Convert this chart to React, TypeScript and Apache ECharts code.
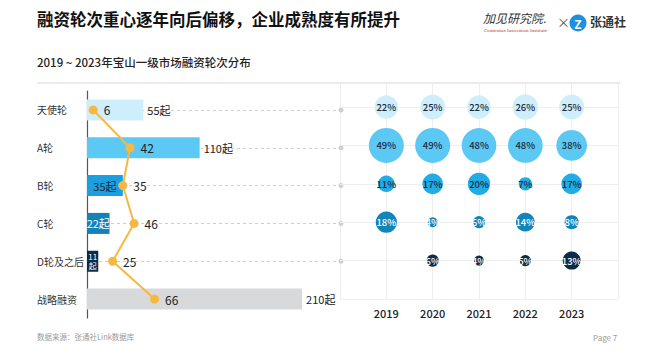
import React, { useEffect, useRef } from "react";
import * as echarts from "echarts";

const rounds = ["天使轮", "A轮", "B轮", "C轮", "D轮及之后", "战略融资"];
const dealCounts = [55, 110, 35, 22, 11, 210];
const lineValues = [6, 42, 35, 46, 25, 66];
const years = [2019, 2020, 2021, 2022, 2023];
const shareAngel = [22, 25, 22, 26, 25];
const shareA = [49, 49, 48, 48, 38];
const shareB = [11, 17, 20, 7, 17];
const shareC = [18, 4, 6, 14, 8];
const shareD: (number | null)[] = [null, 6, 4, 5, 13];
const shareRows = [shareAngel, shareA, shareB, shareC, shareD];

const barColors = ["#cdeefa", "#5cc9f5", "#1b9fe0", "#1282b8", "#0d2c48", "#d8d9db"];
const bubbleColors = ["#cfeefb", "#5cc8f4", "#22ace5", "#1384ba", "#0c2c47"];
const FONT = "'Noto Sans CJK SC', 'Noto Sans', sans-serif";
const XMAX = 248;

export default function App() {
  const ref = useRef<HTMLDivElement>(null);
  useEffect(() => {
    if (!ref.current) return;
    const chart = echarts.init(ref.current, undefined, { renderer: "svg" });

    const barData = dealCounts.map((v, i) => {
      const item: any = { value: v, itemStyle: { color: barColors[i] } };
      if (i === 2) {
        item.label = { position: "inside", color: "#1c2b39", formatter: "{c}起" };
      } else if (i === 3) {
        item.label = { position: "inside", color: "#fff", formatter: "{c}起" };
      } else if (i === 4) {
        item.label = { position: "inside", color: "#fff", fontSize: 8, lineHeight: 9, formatter: "{c}\n起" };
      }
      return item;
    });

    const dashLines = rounds.slice(0, 5).map((r) => [
      { coord: [0, r] },
      { coord: [XMAX, r] },
    ]);

    const rowLines = [0, 1, 2, 3, 4, 5].map((i) => ({ yAxis: i }));

    const bubbleSeries = shareRows.map((row, ri) => ({
      type: "scatter",
      xAxisIndex: 1,
      yAxisIndex: 1,
      z: 3,
      data: row
        .map((v, yi) => (v == null ? null : [years[yi], ri, v]))
        .filter((d) => d != null),
      symbolSize: (d: number[]) => 5 * Math.sqrt(d[2]),
      itemStyle: { color: bubbleColors[ri], opacity: 1 },
      label: {
        show: true,
        position: "inside",
        formatter: (p: any) => p.value[2] + "%",
        color: ri >= 3 ? "#ffffff" : "#1c2b39",
        fontSize: 9.5,
        fontFamily: FONT,
        fontWeight: 500,
      },
      emphasis: { disabled: true },
      ...(ri === 0
        ? {
            markLine: {
              silent: true,
              z: 1,
              symbol: ["none", "none"],
              label: { show: false },
              lineStyle: { color: "#eeeeee", type: "solid", width: 1 },
              data: rowLines,
            },
          }
        : {}),
    }));

    chart.setOption({
      animation: false,
      textStyle: { fontFamily: FONT },
      grid: [
        { left: 87, right: 319, top: 91, bottom: 43, containLabel: false },
        { left: 340, right: 42, top: 84, bottom: 62, containLabel: false },
      ],
      xAxis: [
        { type: "value", gridIndex: 0, min: 0, max: XMAX, show: false, splitLine: { show: false } },
        {
          type: "value",
          gridIndex: 1,
          min: 2018,
          max: 2024,
          interval: 1,
          axisLine: { show: false },
          axisTick: { show: false },
          axisLabel: {
            margin: 8,
            fontSize: 11,
            color: "#222",
            fontWeight: 500,
            formatter: (v: number) => (years.indexOf(v) >= 0 ? String(v) : ""),
          },
          splitLine: { show: true, lineStyle: { color: "#eeeeee", width: 1 } },
        },
      ],
      yAxis: [
        {
          type: "category",
          gridIndex: 0,
          data: rounds,
          inverse: true,
          axisLine: { show: true, lineStyle: { color: "#555", width: 1.2 } },
          axisTick: { show: false },
          axisLabel: { align: "left", margin: 50, fontSize: 10, color: "#333" },
          splitLine: { show: false },
        },
        {
          type: "value",
          gridIndex: 1,
          min: -0.6,
          max: 5,
          inverse: true,
          show: false,
          splitLine: { show: false },
        },
      ],
      series: [
        {
          type: "bar",
          xAxisIndex: 0,
          yAxisIndex: 0,
          z: 2,
          barWidth: 21,
          data: barData,
          label: {
            show: true,
            position: "right",
            distance: 4,
            fontSize: 11,
            color: "#222",
            formatter: "{c}起",
          },
          emphasis: { disabled: true },
          markLine: {
            silent: true,
            z: 1,
            symbol: ["none", "circle"],
            symbolSize: 5,
            label: { show: false },
            lineStyle: { color: "#cfcfcf", type: [3, 3], width: 1 },
            data: dashLines,
          },
        },
        {
          type: "line",
          xAxisIndex: 0,
          yAxisIndex: 0,
          z: 4,
          data: lineValues.map((v, i) => [v, rounds[i]]),
          symbol: "circle",
          symbolSize: 9,
          lineStyle: { color: "#f5b942", width: 2 },
          itemStyle: { color: "#f5b942" },
          label: {
            show: true,
            position: "right",
            distance: 6,
            fontSize: 12,
            color: "#222",
            formatter: (p: any) => String(p.value[0]),
          },
          emphasis: { disabled: true },
        },
        ...bubbleSeries,
      ],
      graphic: [
        {
          type: "text",
          left: 37,
          top: 11,
          style: {
            text: "融资轮次重心逐年向后偏移，企业成熟度有所提升",
            font: `bold 16.5px ${FONT}`,
            fill: "#111",
          },
        },
        {
          type: "text",
          left: 37,
          top: 56,
          style: {
            text: "2019 ~ 2023年宝山一级市场融资轮次分布",
            font: `500 11.5px ${FONT}`,
            fill: "#222",
          },
        },
        {
          type: "line",
          shape: { x1: 37, y1: 83, x2: 620, y2: 83 },
          style: { stroke: "#d6d6d6", lineWidth: 1 },
        },
        {
          type: "text",
          left: 483,
          top: 11,
          style: {
            text: "加见研究院.",
            font: `italic 12px ${FONT}`,
            fill: "#333",
          },
        },
        {
          type: "text",
          left: 484,
          top: 28,
          style: {
            text: "Consensus Innovation Institute",
            font: `4px 'DejaVu Serif', serif`,
            fill: "#c0392b",
          },
        },
        {
          type: "text",
          left: 557,
          top: 15,
          style: { text: "×", font: `13px ${FONT}`, fill: "#555" },
        },
        {
          type: "circle",
          shape: { cx: 578, cy: 23, r: 8.5 },
          style: { fill: "#1c8fdf" },
        },
        {
          type: "text",
          x: 578,
          y: 23,
          style: {
            text: "Z",
            font: `bold 12px ${FONT}`,
            fill: "#fff",
            align: "center",
            verticalAlign: "middle",
          },
        },
        {
          type: "text",
          left: 590,
          top: 15,
          style: { text: "张通社", font: `bold 12px ${FONT}`, fill: "#333" },
        },
        {
          type: "text",
          left: 37,
          top: 333,
          style: { text: "数据来源：张通社Link数据库", font: `7.5px ${FONT}`, fill: "#9a9a9a" },
        },
        {
          type: "text",
          left: 593,
          top: 333,
          style: { text: "Page 7", font: `8px ${FONT}`, fill: "#9a9a9a" },
        },
      ],
    });

    return () => chart.dispose();
  }, []);

  return <div ref={ref} style={{ width: 660, height: 361, position: "absolute", left: 0, top: 0, background: "#fff" }} />;
}
